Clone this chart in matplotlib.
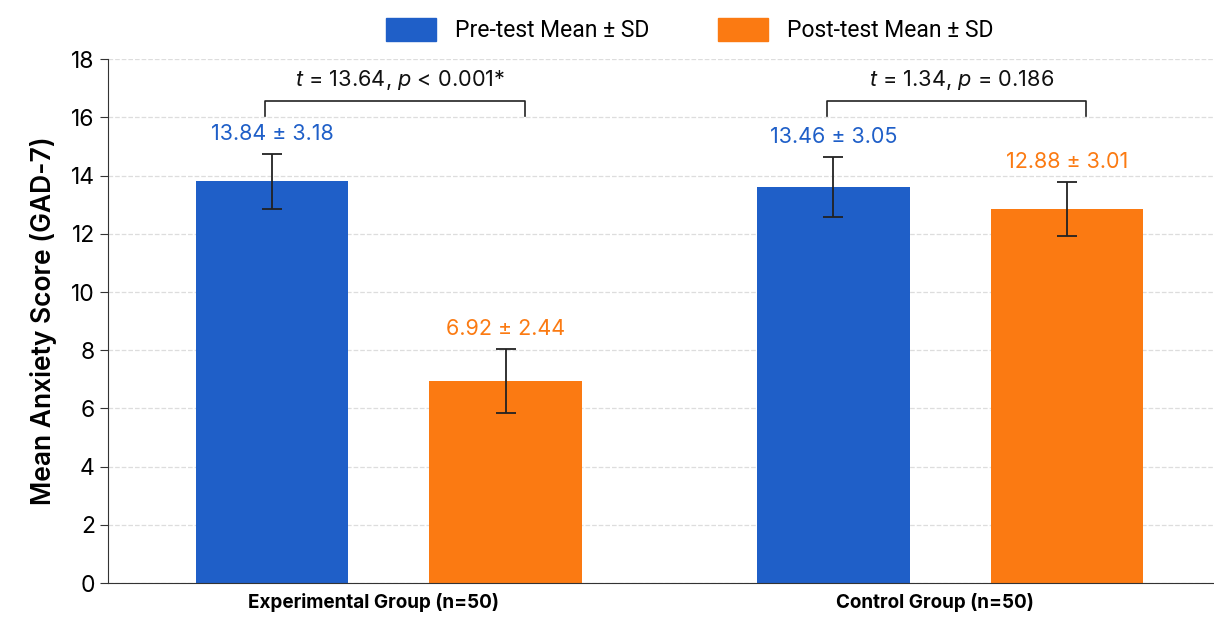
import numpy as np
import matplotlib.pyplot as plt
from matplotlib.patches import Patch

plt.rcParams['font.family'] = ['Inter', 'DejaVu Sans']
plt.rcParams['mathtext.fontset'] = 'custom'
plt.rcParams['mathtext.it'] = 'Inter:italic'
plt.rcParams['mathtext.rm'] = 'Inter'

# dados
grupos = ['Experimental Group (n=50)', 'Control Group (n=50)']
pre_barra = [13.8, 13.6]
pos_barra = [6.94, 12.85]
pre_err = [0.93, 1.03]
pos_err = [1.1, 0.93]
pre_rot = ['13.84 ± 3.18', '13.46 ± 3.05']
pos_rot = ['6.92 ± 2.44', '12.88 ± 3.01']
testes = [r'$t$ = 13.64, $p$ < 0.001*', r'$t$ = 1.34, $p$ = 0.186']

azul = '#1f5fc8'
laranja = '#fb7a12'

fig = plt.figure(figsize=(12.14, 6.17), dpi=100)
ax = fig.add_axes([0.089, 0.055, 0.911, 0.849])

x = np.arange(len(grupos))
off = 0.208
larg = 0.272

ax.bar(x - off, pre_barra, larg, color=azul, zorder=2)
ax.bar(x + off, pos_barra, larg, color=laranja, zorder=2)
ax.errorbar(x - off, pre_barra, yerr=pre_err, fmt='none', ecolor='#222222',
            elinewidth=1.3, capsize=7, capthick=1.3, zorder=3)
ax.errorbar(x + off, pos_barra, yerr=pos_err, fmt='none', ecolor='#222222',
            elinewidth=1.3, capsize=7, capthick=1.3, zorder=3)

for i in range(len(grupos)):
    ax.text(x[i] - off, pre_barra[i] + pre_err[i] + 0.35, pre_rot[i], color=azul,
            ha='center', va='bottom', fontsize=15.5)
    ax.text(x[i] + off, pos_barra[i] + pos_err[i] + 0.35, pos_rot[i], color=laranja,
            ha='center', va='bottom', fontsize=15.5)
    # colchete de comparacao
    x1 = x[i] - off - 0.012
    x2 = x[i] + off + 0.034
    ax.plot([x1, x1, x2, x2], [16.05, 16.55, 16.55, 16.05], color='#222222', lw=1.2,
            zorder=3)
    ax.text((x1 + x2) / 2 + 0.01, 17.3, testes[i], ha='center', va='center',
            fontsize=15.7, color='#111111')
    # rotulo do grupo, um pouco a esquerda do centro
    ax.annotate(grupos[i], xy=(x[i], 0), xycoords=('data', 'axes fraction'),
                xytext=(-15, -10), textcoords='offset pixels', ha='center', va='top',
                fontsize=13.6, fontweight='bold')

ax.set_xlim(-0.5, 1.47)
ax.set_ylim(0, 18)
ax.set_yticks(np.arange(0, 19, 2))
ax.set_xticks(x)
ax.set_xticklabels([])
ax.tick_params(axis='x', length=0)
ax.tick_params(axis='y', labelsize=16.5, length=6, color='#333333')
ax.set_ylabel('Mean Anxiety Score (GAD-7)', fontsize=19, fontweight='semibold',
              labelpad=10)

ax.yaxis.grid(True, linestyle='--', color='#dddddd', lw=0.9, zorder=0)
ax.set_axisbelow(True)
ax.spines['top'].set_visible(False)
ax.spines['right'].set_visible(False)
ax.spines['left'].set_color('#333333')
ax.spines['bottom'].set_color('#333333')

handles = [Patch(color=azul, label='Pre-test Mean ± SD'),
           Patch(color=laranja, label='Post-test Mean ± SD')]
fig.legend(handles=handles, loc='upper center', bbox_to_anchor=(0.568, 1.005), ncol=2,
           frameon=False, prop={'family': 'Roboto', 'size': 16.5}, handlelength=2.2,
           handleheight=1.2, columnspacing=3.0)

fig.savefig('out.png', dpi=100)
